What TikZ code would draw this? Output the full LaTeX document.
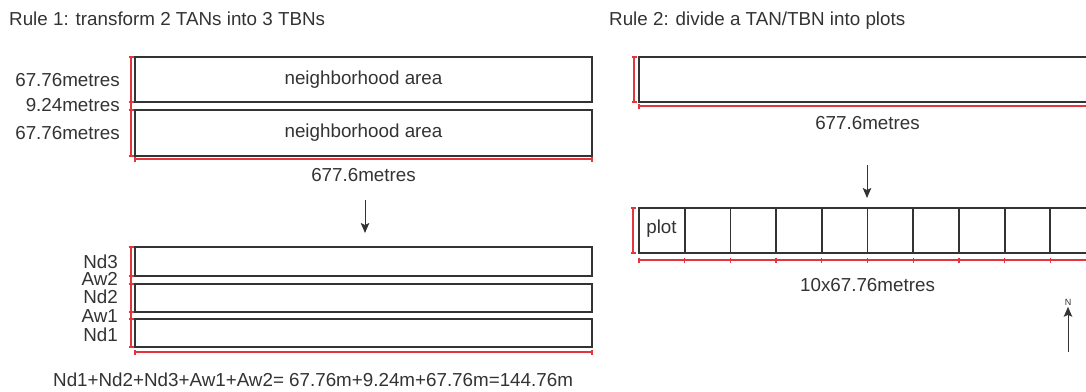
\documentclass[tikz,border=0pt]{standalone}
\usepackage{fontspec}
\setmainfont{Liberation Sans}
\usetikzlibrary{positioning,arrows.meta}
\definecolor{ink}{HTML}{333333}
\definecolor{dimred}{HTML}{E2353D}
\tikzset{
  lot/.style={draw=ink, line width=1.8pt},
  dimline/.style={draw=dimred, line width=1.3pt},
  lbl/.style={text=ink, font=\fontsize{18.8}{20}\selectfont, inner sep=0pt},
  flow/.style={draw=ink, line width=1pt, -{Stealth[length=10pt,width=8.5pt,inset=2pt]}},
}

\begin{document}
\begin{tikzpicture}[x=1pt,y=-1pt]
\useasboundingbox (0,0) rectangle (1086,391);
\clip (0,0) rectangle (1086,391);

% titles
\node[lbl, anchor=base west] (rule1) at (9,25) {Rule 1: transform 2 TANs into 3 TBNs};
\node[lbl, anchor=base west] (rule2) at (609,25) {Rule 2: divide a TAN/TBN into plots};

% Rule 1, two TANs
\draw[lot] (135,57) rectangle (592,102);
\draw[lot] (135,110) rectangle (592,156);
\node[lbl] (nha1) at (363.5,79.5) {neighborhood area};
\node[lbl] (nha2) at (363.5,133) {neighborhood area};
\draw[dimline] (131,57) -- (131,156);
\foreach \y in {57,102,110,156}{
  \draw[dimline] (128.5,\y) -- (133.5,\y);}
\draw[dimline] (135,159) -- (592,159);
\foreach \x in {135,592}{
  \draw[dimline] (\x,156.5) -- (\x,161.5);}
\node[lbl, anchor=east] (tan1) at (120,80) {67.76metres};
\node[lbl, anchor=east] (road) at (120,105) {9.24metres};
\node[lbl, anchor=east] (tan2) at (120,133) {67.76metres};
\node[lbl] (len1) at (363.5,175) {677.6metres};
\draw[flow] (365,200) -- (365,233);

% Rule 1, three TBNs
\foreach \ya/\yb in {247/276,284/312,319/347}{
  \draw[lot] (135,\ya) rectangle (592,\yb);}
\draw[dimline] (131,247) -- (131,347);
\foreach \y in {247,276,284,312,319,347}{
  \draw[dimline] (128.5,\y) -- (133.5,\y);}
\draw[dimline] (135,352) -- (592,352);
\foreach \x in {135,592}{
  \draw[dimline] (\x,349.5) -- (\x,354.5);}
\foreach \t/\y in {Nd3/262,Aw2/279,Nd2/297,Aw1/316,Nd1/335}{
  \node[lbl, anchor=east] (\t) at (118,\y) {\t};}
\node[lbl, anchor=west] (sum) at (53,380) {Nd1+Nd2+Nd3+Aw1+Aw2= 67.76m+9.24m+67.76m=144.76m};

% Rule 2, one block
\draw[lot] (639,57) rectangle (1096,102);
\draw[dimline] (634,57) -- (634,102);
\foreach \y in {57,102}{
  \draw[dimline] (631.5,\y) -- (636.5,\y);}
\draw[dimline] (639,106) -- (1096,106);
\draw[dimline] (639,103.5) -- (639,108.5);
\node[lbl] (len2) at (867.5,123) {677.6metres};
\draw[flow] (867,165) -- (867,198);

% Rule 2, ten plots
\draw[lot] (639,208) rectangle (1096,253);
\foreach \i in {1,...,9}{
  \draw[lot] (639+45.7*\i,208) -- (639+45.7*\i,253);}
\draw[dimline] (633,208) -- (633,253);
\foreach \y in {208,253}{
  \draw[dimline] (630.5,\y) -- (635.5,\y);}
\draw[dimline] (639,260) -- (1096,260);
\foreach \i in {0,...,10}{
  \draw[dimline] (639+45.7*\i,257.5) -- (639+45.7*\i,262.5);}
\node[lbl] (plot) at (661.5,229) {plot};
\node[lbl] (len3) at (867.5,285) {10x67.76metres};

% north arrow
\node[text=ink, font=\fontsize{9}{9}\selectfont, inner sep=0pt] (north) at (1068,302) {N};
\draw[flow] (1068,352) -- ([yshift=-1.5pt]north.south);
\end{tikzpicture}
\end{document}
